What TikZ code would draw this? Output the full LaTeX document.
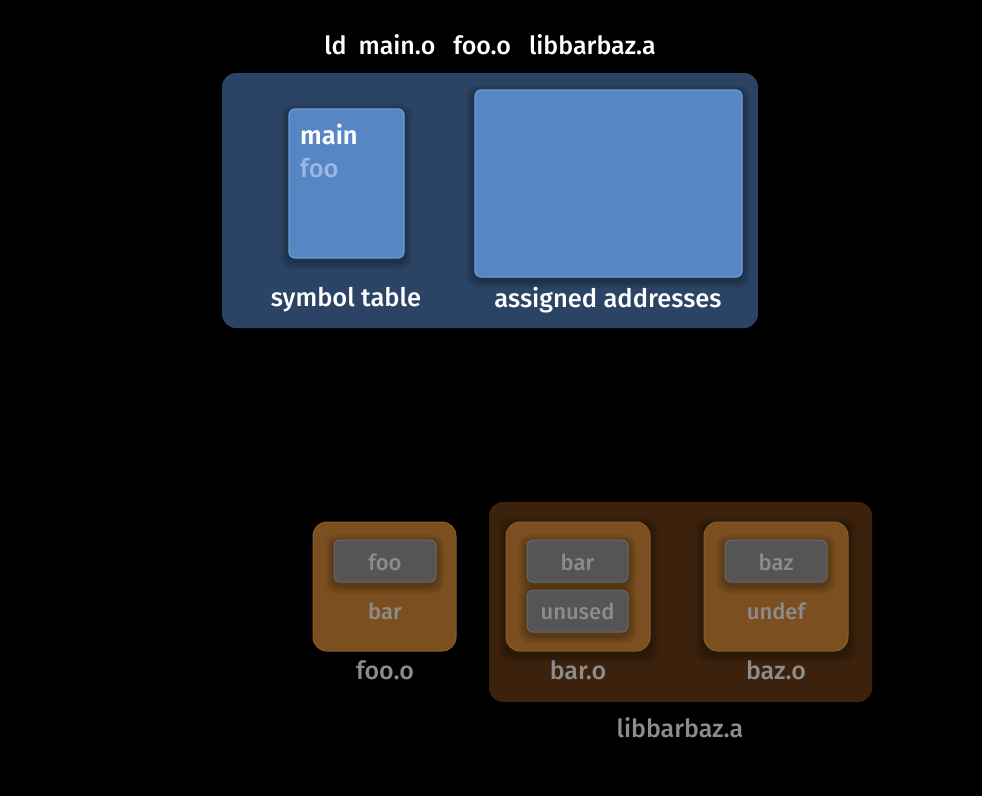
\documentclass[tikz,border=0pt]{standalone}
\usepackage{fontspec}
\IfFontExistsTF{Fira Sans Medium}{\setmainfont{Fira Sans Medium}[BoldFont={Fira Sans SemiBold}]}{%
  \IfFontExistsTF{Fira Sans SemiBold}{\setmainfont{Fira Sans SemiBold}[BoldFont={Fira Sans Bold}]}{%
    \setmainfont{Open Sans}}}
\usetikzlibrary{positioning}
\definecolor{bgc}{HTML}{000000}
\definecolor{navy}{HTML}{2B4465}
\definecolor{lblue}{HTML}{5687C4}
\definecolor{lblueb}{HTML}{6E9AD2}
\definecolor{fadeblue}{HTML}{9BB8E0}
\definecolor{orng}{HTML}{7B4F1F}
\definecolor{orngb}{HTML}{8A5C2A}
\definecolor{dbrown}{HTML}{3C220C}
\definecolor{gbox}{HTML}{555555}
\definecolor{gboxb}{HTML}{686868}
\definecolor{gtext}{HTML}{8C8C8C}
\tikzset{
  panel/.style={fill=navy, rounded corners=14pt},
  bluebox/.style={fill=lblue, draw=lblueb, line width=1.2pt, rounded corners=6pt},
  objbox/.style={fill=orng, draw=orngb, line width=1pt, rounded corners=14pt},
  libbox/.style={fill=dbrown, rounded corners=14pt},
  symbox/.style={fill=gbox, draw=gboxb, line width=1pt, rounded corners=6pt},
  wtxt/.style={text=white, font=\fontsize{25.5}{29}\selectfont, inner sep=0pt},
  gtxt/.style={text=gtext, font=\fontsize{25}{29}\selectfont, inner sep=0pt},
  stxt/.style={text=gtext, font=\fontsize{22}{26}\selectfont, inner sep=0pt},
  shadowlayer/.style={fill=black, opacity=0.07, rounded corners=10pt},
}
% soft shadow: #1,#2 top-left, #3,#4 bottom-right
\newcommand{\softshadow}[4]{%
  \foreach \e in {8,6,4,2}{%
    \path[shadowlayer] ({#1-\e},{#2-\e+3}) rectangle ({#3+\e},{#4+\e+3});
  }%
}
\begin{document}
\begin{tikzpicture}[x=1pt,y=-1pt]
\useasboundingbox[fill=bgc] (0,0) rectangle (982,796);
% title
\node[wtxt, font=\fontsize{25}{29}\selectfont] (title) at (490,45) {ld\hspace{12pt}main.o\hspace{18pt}foo.o\hspace{18pt}libbarbaz.a};
% linker panel
\path[panel] (222,73) rectangle (758,328);
\softshadow{289}{109}{404}{258}
\softshadow{475}{90}{742}{277}
\path[bluebox] (289,109) rectangle (404,258);
\path[bluebox] (475,90) rectangle (742,277);
\node[wtxt, anchor=west, font=\fontsize{25.5}{29}\selectfont\bfseries] (main) at (300,134) {main};
\node[wtxt, anchor=west, text=fadeblue] (foosym) at (300,168) {foo};
\node[wtxt] (symlbl) at (346,300) {symbol table};
\node[wtxt] (addrlbl) at (608,300) {assigned addresses};
% libbarbaz.a
\path[libbox] (489,502) rectangle (872,702);
% object files
\softshadow{506}{522}{650}{651}
\softshadow{704}{522}{848}{651}
\path[objbox] (313,522) rectangle (456,651);
\path[objbox] (506,522) rectangle (650,651);
\path[objbox] (704,522) rectangle (848,651);
% symbol boxes
\softshadow{334}{540}{436}{582}
\softshadow{527}{540}{628}{582}
\softshadow{527}{590}{628}{632}
\softshadow{725}{540}{827}{582}
\path[symbox] (334,540) rectangle (436,582);
\path[symbox] (527,540) rectangle (628,582);
\path[symbox] (527,590) rectangle (628,632);
\path[symbox] (725,540) rectangle (827,582);
\node[stxt] (s1) at (385,562) {foo};
\node[stxt] (s2) at (577.5,562) {bar};
\node[stxt] (s3) at (577.5,611) {unused};
\node[stxt] (s4) at (776,562) {baz};
\node[stxt] (u1) at (385,611) {bar};
\node[stxt] (u2) at (776,611) {undef};
% labels
\node[gtxt] (l1) at (385,670) {foo.o};
\node[gtxt] (l2) at (578,670) {bar.o};
\node[gtxt] (l3) at (776,670) {baz.o};
\node[gtxt] (l4) at (680,728) {libbarbaz.a};
\end{tikzpicture}
\end{document}
